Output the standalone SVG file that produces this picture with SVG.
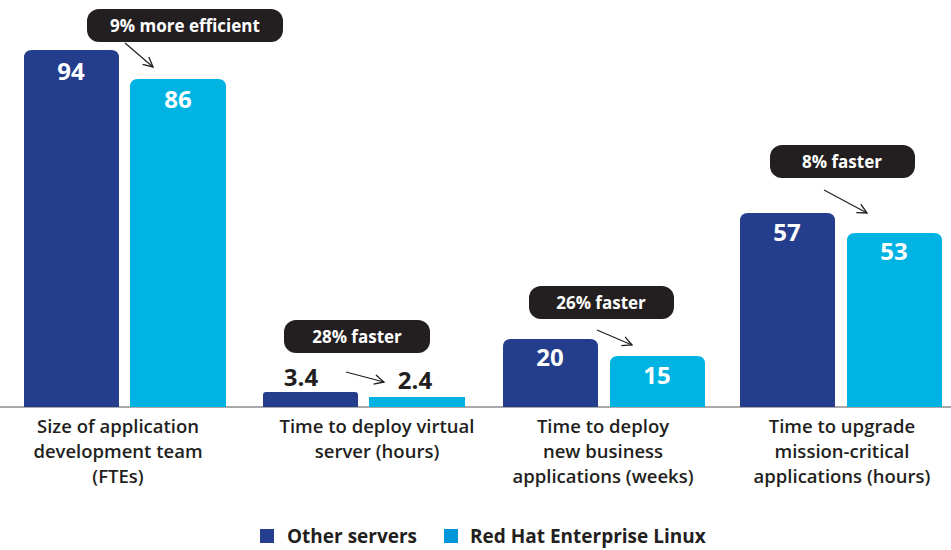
<svg xmlns="http://www.w3.org/2000/svg" width="951" height="550" viewBox="0 0 951 550">
<defs>
<style>
.other{fill:#253d8d}
.rhel{fill:#00b3e3}
.val{font-family:"Open Sans","Liberation Sans",sans-serif;font-weight:700;font-size:24px;fill:#fff;text-anchor:middle}
.valdark{font-family:"Open Sans","Liberation Sans",sans-serif;font-weight:700;font-size:24px;fill:#231f20;text-anchor:middle}
.call rect{fill:#231f20}
.call text{font-family:"Open Sans","Liberation Sans",sans-serif;font-weight:700;font-size:17px;fill:#fff;text-anchor:middle}
.cat{font-family:"Open Sans","Liberation Sans",sans-serif;font-weight:600;font-size:18.5px;fill:#231f20;text-anchor:middle}
.leg{font-family:"Open Sans","Liberation Sans",sans-serif;font-weight:700;font-size:19px;fill:#231f20}
.arr{stroke:#231f20;stroke-width:1.2;fill:none;marker-end:url(#head)}
</style>
<marker id="head" viewBox="0 0 10 10" refX="9" refY="5" markerWidth="12" markerHeight="12" markerUnits="userSpaceOnUse" orient="auto">
<path d="M1,1 L9,5 L1,9" fill="none" stroke="#231f20" stroke-width="1.1"/>
</marker>
</defs>
<line x1="0" y1="407" x2="951" y2="407" stroke="#8c8c8c" stroke-width="1.5"/>

<g id="g1">
<path class="other" d="M24,407 V58 Q24,50 32,50 H111 Q119,50 119,58 V407 Z"/>
<text class="val" x="71" y="80">94</text>
<path class="rhel" d="M130,407 V87 Q130,79 138,79 H218 Q226,79 226,87 V407 Z"/>
<text class="val" x="178" y="108">86</text>
<g class="call"><rect x="87" y="9" width="196" height="33" rx="12"/><text x="185" y="32">9% more efficient</text></g>
<text class="cat" x="118" y="433">Size of application</text>
<text class="cat" x="118" y="458">development team</text>
<text class="cat" x="118" y="483">(FTEs)</text>
</g>

<g id="g2">
<path class="other" d="M263,407 V395 Q263,392 266,392 H355 Q358,392 358,395 V407 Z"/>
<text class="valdark" x="301" y="386">3.4</text>
<rect class="rhel" x="369" y="397" width="96" height="10"/>
<text class="valdark" x="415" y="389">2.4</text>
<g class="call"><rect x="284" y="320" width="146" height="33" rx="12"/><text x="357" y="343">28% faster</text></g>
<text class="cat" x="377" y="433">Time to deploy virtual</text>
<text class="cat" x="377" y="458">server (hours)</text>
</g>

<g id="g3">
<path class="other" d="M503,407 V347 Q503,339 511,339 H590 Q598,339 598,347 V407 Z"/>
<text class="val" x="550" y="366">20</text>
<path class="rhel" d="M610,407 V364 Q610,356 618,356 H697 Q705,356 705,364 V407 Z"/>
<text class="val" x="657" y="384">15</text>
<g class="call"><rect x="529" y="286" width="145" height="33" rx="12"/><text x="601" y="309">26% faster</text></g>
<text class="cat" x="603" y="433">Time to deploy</text>
<text class="cat" x="603" y="458">new business</text>
<text class="cat" x="603" y="483">applications (weeks)</text>
</g>

<g id="g4">
<path class="other" d="M740,407 V221 Q740,213 748,213 H827 Q835,213 835,221 V407 Z"/>
<text class="val" x="787" y="241">57</text>
<path class="rhel" d="M847,407 V241 Q847,233 855,233 H934 Q942,233 942,241 V407 Z"/>
<text class="val" x="894" y="260">53</text>
<g class="call"><rect x="770" y="145" width="145" height="33" rx="12"/><text x="842" y="168">8% faster</text></g>
<text class="cat" x="842" y="433">Time to upgrade</text>
<text class="cat" x="842" y="458">mission-critical</text>
<text class="cat" x="842" y="483">applications (hours)</text>
</g>

<g id="connectors">
<line class="arr" x1="125" y1="43" x2="153" y2="67"/>
<line class="arr" x1="346" y1="372" x2="384" y2="382"/>
<line class="arr" x1="597" y1="330" x2="632" y2="345"/>
<line class="arr" x1="824" y1="190" x2="867" y2="213"/>
</g>

<g id="legend">
<rect x="260" y="529" width="14" height="14" fill="#253d8d"/>
<text class="leg" x="287" y="543">Other servers</text>
<rect x="444" y="529" width="14" height="14" fill="#0096d8"/>
<text class="leg" x="470" y="543">Red Hat Enterprise Linux</text>
</g>
</svg>
